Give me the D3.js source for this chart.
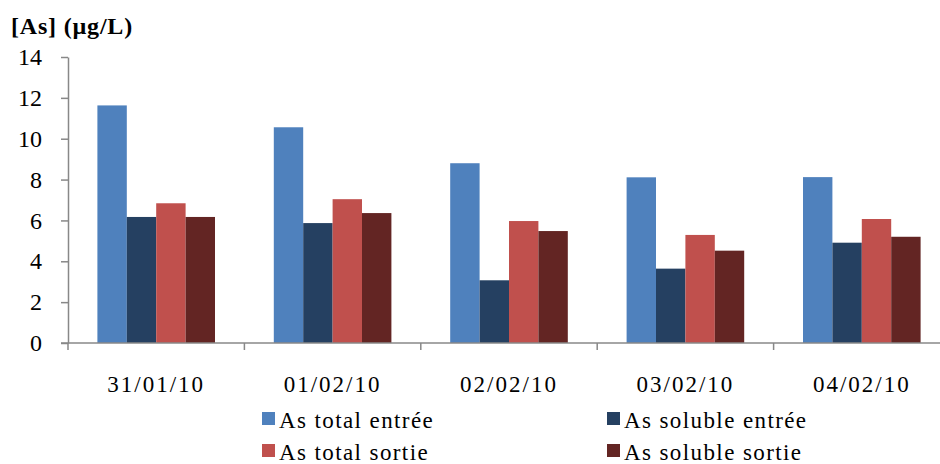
<!DOCTYPE html>
<html>
<head>
<meta charset="utf-8">
<script src="https://cdn.jsdelivr.net/npm/d3@7"></script>
</head>
<body style="margin:0">
<div id="chart"></div>
<script>
const dates = ["31/01/10", "01/02/10", "02/02/10", "03/02/10", "04/02/10"]
const seriesNames = ["As total entrée", "As soluble entrée", "As total sortie", "As soluble sortie"]
const totalEntree = [11.63, 10.56, 8.8, 8.11, 8.12]
const solubleEntree = [6.17, 5.87, 3.07, 3.64, 4.91]
const totalSortie = [6.84, 7.04, 5.97, 5.29, 6.07]
const solubleSortie = [6.17, 6.36, 5.48, 4.52, 5.2]
const yTicks = [0, 2, 4, 6, 8, 10, 12, 14]
const colors = ["#4f81bd", "#254061", "#c0504d", "#632523"]

const width = 940
const height = 464

const seriesValues = [totalEntree, solubleEntree, totalSortie, solubleSortie]
const rows = dates.map((d, i) => ({ date: d, values: seriesValues.map(s => s[i]) }))

const svg = d3.select("#chart")
  .append("svg")
  .attr("width", width)
  .attr("height", height)

svg.append("style")
  .text("text { font-family: 'Liberation Serif', 'DejaVu Serif', serif !important; }")

const x0 = d3.scaleBand()
  .domain(dates)
  .range([68, 950])
  .paddingInner(0)
  .paddingOuter(0)

const x1 = d3.scaleBand()
  .domain(d3.range(seriesNames.length))
  .range([0, x0.bandwidth()])
  .paddingInner(0)
  .paddingOuter(1)

const y = d3.scaleLinear()
  .domain([0, 14])
  .range([343, 57])

// bars
const groups = svg.append("g")
  .selectAll("g")
  .data(rows)
  .enter()
    .append("g")
    .attr("transform", d => `translate(${x0(d.date)},0)`)

groups.selectAll("rect")
  .data(d => d.values)
  .enter()
    .append("rect")
    .attr("x", (d, i) => x1(i))
    .attr("y", d => y(d))
    .attr("width", x1.bandwidth())
    .attr("height", d => y(0) - y(d))
    .attr("fill", (d, i) => colors[i])

// y axis
const yAxis = svg.append("g")
  .attr("transform", "translate(68,0)")
  .call(d3.axisLeft(y).tickValues(yTicks).tickSize(7).tickSizeOuter(0).tickPadding(19))

yAxis.attr("font-family", null).attr("font-size", null)
yAxis.select(".domain").attr("stroke", "#888").attr("stroke-width", 1.5)
yAxis.selectAll(".tick line").attr("stroke", "#888").attr("stroke-width", 1.5)
yAxis.selectAll(".tick text")
  .attr("font-size", 24)
  .attr("fill", "#000")
  .style("font-family", "Liberation Serif")

// x axis
const xAxis = svg.append("g")
xAxis.append("line")
  .attr("x1", 61)
  .attr("x2", 950)
  .attr("y1", y(0))
  .attr("y2", y(0))
  .attr("stroke", "#888")
  .attr("stroke-width", 1.5)

xAxis.selectAll("line.tick")
  .data(dates.concat(["end"]))
  .enter()
    .append("line")
    .attr("class", "tick")
    .attr("x1", (d, i) => i < dates.length ? x0(d) : x0.range()[1])
    .attr("x2", (d, i) => i < dates.length ? x0(d) : x0.range()[1])
    .attr("y1", y(0))
    .attr("y2", y(0) + 7)
    .attr("stroke", "#888")
    .attr("stroke-width", 1.5)

xAxis.selectAll("text")
  .data(dates)
  .enter()
    .append("text")
    .attr("x", d => x0(d) + x0.bandwidth() / 2)
    .attr("y", 392)
    .attr("text-anchor", "middle")
    .attr("font-size", 23)
    .attr("letter-spacing", 2)
    .style("font-family", "Liberation Serif")
    .text(d => d)

// title
svg.append("text")
  .attr("x", 11)
  .attr("y", 34)
  .attr("font-size", 24)
  .attr("font-weight", "bold")
  .attr("letter-spacing", 0.8)
  .style("font-family", "Liberation Serif")
  .text("[As] (µg/L)")

// legend
const legendPos = [[262, 428], [607, 428], [262, 460], [607, 460]]
const legend = svg.append("g")
  .selectAll("g")
  .data(seriesNames)
  .enter()
    .append("g")
    .attr("transform", (d, i) => `translate(${legendPos[i][0]},${legendPos[i][1]})`)

legend.append("rect")
  .attr("x", 0)
  .attr("y", -16)
  .attr("width", 13)
  .attr("height", 13)
  .attr("fill", (d, i) => colors[i])

legend.append("text")
  .attr("x", 17)
  .attr("y", 0)
  .attr("font-size", 23)
  .attr("letter-spacing", 1.4)
  .style("font-family", "Liberation Serif")
  .text(d => d)
</script>
</body>
</html>
